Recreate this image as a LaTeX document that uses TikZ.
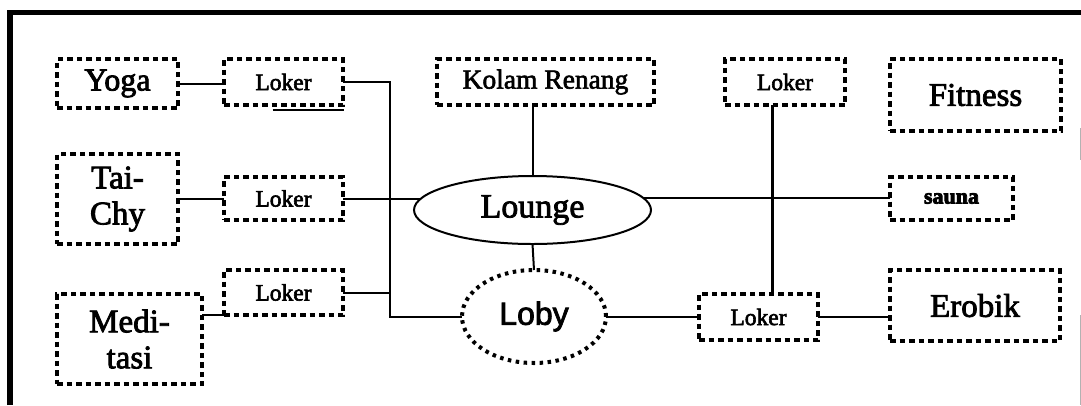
\documentclass[tikz,border=0pt]{standalone}
\usepackage{fontspec}
\setmainfont{Liberation Serif}
\newfontfamily\arialfont{Liberation Sans}
\newcommand\heavytext{\special{pdf:literal direct 2 Tr 0.8 w}}
\newcommand\midtext{\special{pdf:literal direct 2 Tr 0.6 w}}
\usetikzlibrary{shapes.geometric}
\begin{document}
\begin{tikzpicture}[x=1pt,y=-1pt,
  dotbox/.style={draw, line width=4pt, dash pattern=on 5.5pt off 4pt, rectangle,
    inner sep=0pt, outer sep=0pt, align=center, font=\heavytext\fontsize{33}{36}\selectfont},
  lokerbox/.style={dotbox, minimum width=119pt, minimum height=46pt, font=\midtext\fontsize{23.5}{26}\selectfont},
  conn/.style={line width=2pt},
  thickconn/.style={line width=3pt}]
\useasboundingbox (0,0) rectangle (1081,405);
% frame
\draw[line width=5.5pt] (10,405) -- (10,12.5) -- (1081,12.5);
\draw[line width=1pt, gray!60] (1080,128) -- (1080,160);
\draw[line width=1pt, gray!60] (1080,315) -- (1080,405);

% left column
\node[dotbox, minimum width=121pt, minimum height=49pt, font=\heavytext\fontsize{32}{35}\selectfont] (yoga) at (117.5,83.5) {Yoga};
\node[dotbox, minimum width=121pt, minimum height=90pt] (taichy) at (117.5,199) {Tai-\\Chy};
\node[dotbox, minimum width=145pt, minimum height=90pt] (medi) at (129.5,339) {Medi-\\tasi};

% lokers left
\node[lokerbox] (loker1) at (283.5,82) {Loker};
\node[lokerbox, minimum height=43pt] (loker2) at (283.5,198.5) {Loker};
\node[lokerbox, minimum height=45pt] (loker3) at (283.5,292.5) {Loker};

% center
\node[dotbox, minimum width=217pt, minimum height=46pt, font=\midtext\fontsize{27.5}{30}\selectfont] (kolam) at (545.5,82) {Kolam Renang};
\node[draw, ellipse, line width=2pt, inner sep=0pt, outer sep=0pt, minimum width=237pt, minimum height=68pt,
  font=\heavytext\fontsize{34}{36}\selectfont] (lounge) at (532.5,210) {Lounge};
\node[draw, ellipse, line width=4pt, dash pattern=on 3.5pt off 4.5pt, inner sep=0pt, outer sep=0pt,
  minimum width=144pt, minimum height=93pt, font=\heavytext\arialfont\fontsize{32}{34}\selectfont] (loby) at (534,316.5) {Loby};

% right
\node[lokerbox, minimum width=120pt] (loker5) at (785,82) {Loker};
\node[dotbox, minimum width=171pt, minimum height=72pt] (fitness) at (975.5,95) {Fitness};
\node[dotbox, minimum width=123pt, minimum height=43pt, font=\heavytext\bfseries\fontsize{22}{24}\selectfont] (sauna) at (951.5,198.5) {sauna};
\node[lokerbox] (loker4) at (758.5,317) {Loker};
\node[dotbox, minimum width=170pt, minimum height=71pt] (erobik) at (975,305.5) {Erobik};

% connectors
\coordinate (bus) at (390,316.5);
\draw[conn] (yoga.east) -- (yoga.east -| loker1.west);
\draw[conn] (loker1.east) -| (bus) -- (loby.west);
\draw[conn] (taichy.east |- loker2.west) -- (loker2.west);
\draw[conn] (loker2.east) -- (loker2.east -| lounge.174);
\draw[conn] (loker3.east) -- (loker3.east -| bus);
\draw[conn] (medi.east |- loker3.south west) -- (loker3.south west);
\draw[conn] (lounge.north) -- (lounge.north |- kolam.south);
\draw[conn] (lounge.south) -- (loby.north);
\draw[conn] (lounge.6) -- (lounge.6 -| sauna.west);
\draw[conn] (loby.east) -- (loby.east -| loker4.west);
\draw[conn] (loker4.east) -- (loker4.east -| erobik.west);
\draw[thickconn] ([xshift=13.5pt]loker4.north) -- ([xshift=13.5pt]loker4.north |- loker5.south);
% stray underline under the first Loker box
\draw[line width=1.5pt] ([xshift=-11pt,yshift=-5pt]loker1.south) -- ([xshift=60pt,yshift=-5pt]loker1.south);
\end{tikzpicture}
\end{document}
